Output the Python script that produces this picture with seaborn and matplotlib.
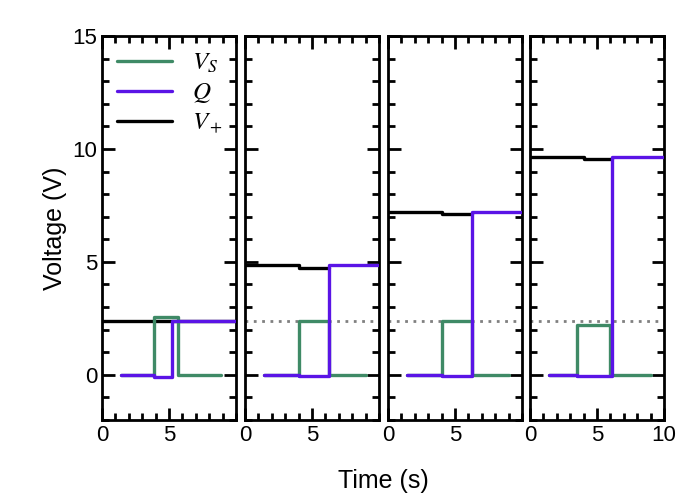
import numpy as np
import matplotlib
matplotlib.use("Agg")
import matplotlib.pyplot as plt
import seaborn as sns
import pandas as pd
from matplotlib.ticker import MultipleLocator

sns.set_theme(style="white", font="Liberation Sans",
              rc={"text.color": "black", "axes.labelcolor": "black",
                  "xtick.color": "black", "ytick.color": "black",
                  "mathtext.fontset": "stix"})

# step traces per panel: (time, value) breakpoints
vs_t = [[1.4, 3.9, 3.9, 5.7, 5.7, 8.9],
        [1.4, 4.0, 4.0, 6.3, 6.3, 9.0],
        [1.4, 4.0, 4.0, 6.3, 6.3, 9.0],
        [1.4, 3.5, 3.5, 6.0, 6.0, 9.0]]
vs_v = [[0, 0, 2.55, 2.55, 0, 0],
        [0, 0, 2.4, 2.4, 0, 0],
        [0, 0, 2.4, 2.4, 0, 0],
        [0, 0, 2.2, 2.2, 0, 0]]
q_t = [[1.4, 3.9, 3.9, 5.2, 5.2, 10],
       [1.4, 4.0, 4.0, 6.3, 6.3, 10],
       [1.4, 4.0, 4.0, 6.3, 6.3, 10],
       [1.4, 3.5, 3.5, 6.1, 6.1, 10]]
q_v = [[0, 0, -0.1, -0.1, 2.4, 2.4],
       [0, 0, -0.05, -0.05, 4.85, 4.85],
       [0, 0, -0.05, -0.05, 7.2, 7.2],
       [0, 0, -0.05, -0.05, 9.65, 9.65]]
vp_t = [[0, 4.0, 4.0, 10],
        [0, 4.0, 4.0, 6.3],
        [0, 4.0, 4.0, 6.3],
        [0, 4.0, 4.0, 6.1]]
vp_v = [[2.4, 2.4, 2.4, 2.4],
        [4.85, 4.85, 4.75, 4.75],
        [7.2, 7.2, 7.1, 7.1],
        [9.65, 9.65, 9.55, 9.55]]
ref_level = 2.4

green = "#3f8a66"
purple = "#5a14e6"

fig = plt.figure(figsize=(6.79, 4.93), dpi=100)
lefts = [102, 245, 388, 530]
axes = []
for i, l in enumerate(lefts):
    ax = fig.add_axes([l / 679, 0.148, 134 / 679, 0.779])
    axes.append(ax)
    ax.plot(vp_t[i], vp_v[i], color="black", lw=2.4, label="$V_+$", zorder=2)
    ax.axhline(ref_level, xmin=0.45 if i == 0 else 0, color="gray", ls=(0, (1, 2)), lw=2, zorder=1)
    ax.plot(vs_t[i], vs_v[i], color=green, lw=2.4, label="$V_S$", zorder=3)
    ax.plot(q_t[i], q_v[i], color=purple, lw=2.4, label="$Q$", zorder=4)
    ax.set_xlim(0, 10)
    ax.set_ylim(-2, 15)
    ax.xaxis.set_major_locator(MultipleLocator(5))
    ax.xaxis.set_minor_locator(MultipleLocator(1))
    ax.yaxis.set_major_locator(MultipleLocator(5))
    ax.yaxis.set_minor_locator(MultipleLocator(1))
    ax.tick_params(which="both", direction="in", top=True, right=True, bottom=True, left=True,
                   width=2, color="black", labelsize=16)
    ax.tick_params(which="major", length=9)
    ax.tick_params(which="minor", length=5)
    for s in ax.spines.values():
        s.set_linewidth(2)
        s.set_color("black")
    if i > 0:
        ax.set_yticklabels([])
    ax.set_xticks([0, 5] if i < 3 else [0, 5, 10])

axes[0].set_ylabel("Voltage (V)", fontsize=18, labelpad=4)
h, lab = axes[0].get_legend_handles_labels()
order = [1, 2, 0]
axes[0].legend([h[k] for k in order], [lab[k] for k in order], loc="upper left",
               frameon=False, fontsize=18, handlelength=2.2, borderaxespad=0.2,
               labelspacing=0.2)
fig.text(0.565, 0.01, "Time (s)", ha="center", fontsize=18)
fig.savefig("out.png", dpi=100)
